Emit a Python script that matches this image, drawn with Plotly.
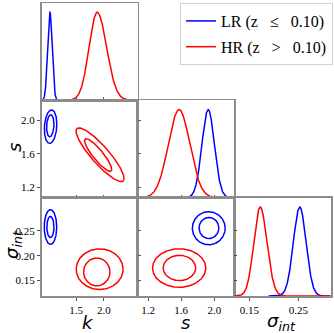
import numpy as np
import plotly.graph_objects as go

# ---------------- data ----------------
NB = "\u00a0\u00a0\u00a0"
series_names = ["LR (z" + NB + "\u2264" + NB + "0.10)", "HR (z" + NB + ">" + NB + "0.10)"]
series_colors = ["#0000ff", "#ff0000"]

# 1D marginals: peak, sigma (left), sigma (right), drawn range lo, hi  -> [LR, HR]
k_peak = [1.025, 1.878]
k_sig_lo = [0.040, 0.145]
k_sig_hi = [0.040, 0.170]
k_draw_lo = [0.873, 1.147]
k_draw_hi = [1.166, 2.610]

s_peak = [1.925, 1.574]
s_sig_lo = [0.075, 0.130]
s_sig_hi = [0.075, 0.130]
s_draw_lo = [1.484, 1.070]
s_draw_hi = [2.240, 2.240]

sig_peak = [0.253, 0.172]
sig_sig_lo = [0.0130, 0.0130]
sig_sig_hi = [0.0130, 0.0140]
sig_draw_lo = [0.189, 0.119]
sig_draw_hi = [0.316, 0.316]

# 2D contours (inner 68%, outer 95%): centre x, centre y, half-width x, half-height y, tilt
# k vs s
ks_cx = [[1.031, 1.037], [1.896, 1.930]]
ks_cy = [[1.935, 1.925], [1.585, 1.589]]
ks_hx = [[0.067, 0.113], [0.244, 0.433]]
ks_hy = [[0.132, 0.200], [0.195, 0.322]]
ks_rho = [[0.15, 0.15], [-0.88, -0.88]]
# k vs sigma_int
ksig_cx = [[1.034, 1.035], [1.871, 1.923]]
ksig_cy = [[0.258, 0.258], [0.1675, 0.173]]
ksig_hx = [[0.064, 0.113], [0.238, 0.423]]
ksig_hy = [[0.0215, 0.035], [0.028, 0.041]]
ksig_rho = [[0.0, 0.0], [0.0, 0.0]]
# s vs sigma_int
ssig_cx = [[1.934, 1.932], [1.578, 1.575]]
ssig_cy = [[0.256, 0.2555], [0.1755, 0.1753]]
ssig_hx = [[0.119, 0.198], [0.196, 0.321]]
ssig_hy = [[0.0213, 0.0333], [0.0255, 0.0388]]
ssig_rho = [[0.0, 0.0], [0.0, 0.0]]

# axis ranges and ticks
k_range = [0.873, 2.61]
s_range = [1.075, 2.24]
sig_range = [0.119, 0.317]
k_ticks = [1.5, 2.0]
s_ticks = [1.2, 1.6, 2.0]
sig_ticks = [0.15, 0.20, 0.25]
sig_xticks = [0.15, 0.25]
diag_range = [0, 1.105]

# ---------------- figure ----------------
W, H = 334, 333
col_px = [41.5, 137.7, 234.3, 331.0]
row_px = [3.0, 100.3, 197.7, 296.0]

def xdom(c):
    return [col_px[c] / W, col_px[c + 1] / W]

def ydom(r):
    return [1 - row_px[r + 1] / H, 1 - row_px[r] / H]

fig = go.Figure()
shown = set()

def marginal(x_ax, y_ax, peak, slo, shi, dlo, dhi):
    for i in range(2):
        x = np.linspace(dlo[i], dhi[i], 400)
        sg = np.where(x < peak[i], slo[i], shi[i])
        y = np.exp(-0.5 * ((x - peak[i]) / sg) ** 2)
        fig.add_trace(go.Scatter(
            x=x, y=y, mode="lines", xaxis=x_ax, yaxis=y_ax,
            line=dict(color=series_colors[i], width=1.5),
            name=series_names[i], legendgroup=str(i),
            showlegend=(i not in shown), hoverinfo="skip"))
        shown.add(i)

def contours(x_ax, y_ax, cx, cy, hx, hy, rho):
    t = np.linspace(0, 2 * np.pi, 300)
    for i in range(2):
        for lev in range(2):
            r = rho[i][lev]
            x = cx[i][lev] + hx[i][lev] * np.cos(t)
            y = cy[i][lev] + hy[i][lev] * (r * np.cos(t) + np.sqrt(1 - r * r) * np.sin(t))
            fig.add_trace(go.Scatter(
                x=x, y=y, mode="lines", xaxis=x_ax, yaxis=y_ax,
                line=dict(color=series_colors[i], width=1.5),
                name=series_names[i], legendgroup=str(i),
                showlegend=False, hoverinfo="skip"))

# panels
marginal("x", "y", k_peak, k_sig_lo, k_sig_hi, k_draw_lo, k_draw_hi)
contours("x2", "y2", ks_cx, ks_cy, ks_hx, ks_hy, ks_rho)
marginal("x3", "y3", s_peak, s_sig_lo, s_sig_hi, s_draw_lo, s_draw_hi)
contours("x4", "y4", ksig_cx, ksig_cy, ksig_hx, ksig_hy, ksig_rho)
contours("x5", "y5", ssig_cx, ssig_cy, ssig_hx, ssig_hy, ssig_rho)
marginal("x6", "y6", sig_peak, sig_sig_lo, sig_sig_hi, sig_draw_lo, sig_draw_hi)

frame = dict(showline=True, mirror=True, linecolor="#8c8c8c", linewidth=1.5,
             showgrid=False, zeroline=False, fixedrange=True,
             tickfont=dict(family="Liberation Serif", size=11, color="black"),
             tickcolor="#555555", ticklen=3, tickwidth=1)

def ax(domain, rng, ticks=None, labels=False, fmt=".1f", anchor=None):
    d = dict(frame, domain=domain, range=rng, anchor=anchor)
    if ticks is None:
        d.update(showticklabels=False, ticks="")
    else:
        d.update(tickvals=ticks, tickformat=fmt, showticklabels=labels,
                 ticks="outside" if labels else "inside")
    return d

lay = dict(
    width=W, height=H, margin=dict(l=0, r=0, t=0, b=0),
    paper_bgcolor="white", plot_bgcolor="white",
    showlegend=True,
    legend=dict(x=180 / W, y=1 - 3 / H, xanchor="left", yanchor="top",
                bgcolor="white", bordercolor="#d0d0d0", borderwidth=1,
                font=dict(family="Liberation Serif", size=16, color="black"),
                itemwidth=30, tracegroupgap=2),
)
# row 1: k marginal
lay["xaxis"] = ax(xdom(0), k_range, k_ticks, False, anchor="y")
lay["yaxis"] = ax(ydom(0), diag_range, None, anchor="x")
# row 2
lay["xaxis2"] = ax(xdom(0), k_range, k_ticks, False, anchor="y2")
lay["yaxis2"] = ax(ydom(1), s_range, s_ticks, True, anchor="x2")
lay["xaxis3"] = ax(xdom(1), s_range, s_ticks, False, anchor="y3")
lay["yaxis3"] = ax(ydom(1), diag_range, None, anchor="x3")
# row 3
lay["xaxis4"] = ax(xdom(0), k_range, k_ticks, True, anchor="y4")
lay["yaxis4"] = ax(ydom(2), sig_range, sig_ticks, True, ".2f", anchor="x4")
lay["xaxis5"] = ax(xdom(1), s_range, s_ticks, True, anchor="y5")
lay["yaxis5"] = ax(ydom(2), sig_range, sig_ticks, False, ".2f", anchor="x5")
lay["xaxis6"] = ax(xdom(2), sig_range, sig_xticks, True, ".2f", anchor="y6")
lay["yaxis6"] = ax(ydom(2), diag_range, None, anchor="x6")
# overlay tick axes on diagonal panels (parameter ticks of the row)
lay["yaxis7"] = dict(ax(ydom(1), s_range, s_ticks, False, anchor="x3"), overlaying="y3",
                     showline=False)
lay["yaxis8"] = dict(ax(ydom(2), sig_range, sig_ticks, False, ".2f", anchor="x6"),
                     overlaying="y6", showline=False)
fig.update_layout(**lay)
fig.add_trace(go.Scatter(x=[None], y=[None], xaxis="x3", yaxis="y7", showlegend=False))
fig.add_trace(go.Scatter(x=[None], y=[None], xaxis="x6", yaxis="y8", showlegend=False))

title_font = dict(family="DejaVu Sans", size=18, color="black")
def px_x(p):
    return p / W
def px_y(p):
    return 1 - p / H

ann = [
    dict(text="<i>k</i>", x=px_x(88), y=px_y(322)),
    dict(text="<i>s</i>", x=px_x(186), y=px_y(322)),
    dict(text="<i>\u03c3</i><sub><i>int</i></sub>", x=px_x(281), y=px_y(322)),
    dict(text="<i>s</i>", x=px_x(14), y=px_y(148), textangle=-90),
    dict(text="<i>\u03c3</i><sub><i>int</i></sub>", x=px_x(13), y=px_y(245), textangle=-90),
]
for a in ann:
    fig.add_annotation(xref="paper", yref="paper", showarrow=False,
                       xanchor="center", yanchor="middle", font=title_font, **a)

fig.write_html("out.html", config={"displayModeBar": False, "staticPlot": True},
               post_script="document.body.style.margin='0px';document.body.style.overflow='hidden';")
